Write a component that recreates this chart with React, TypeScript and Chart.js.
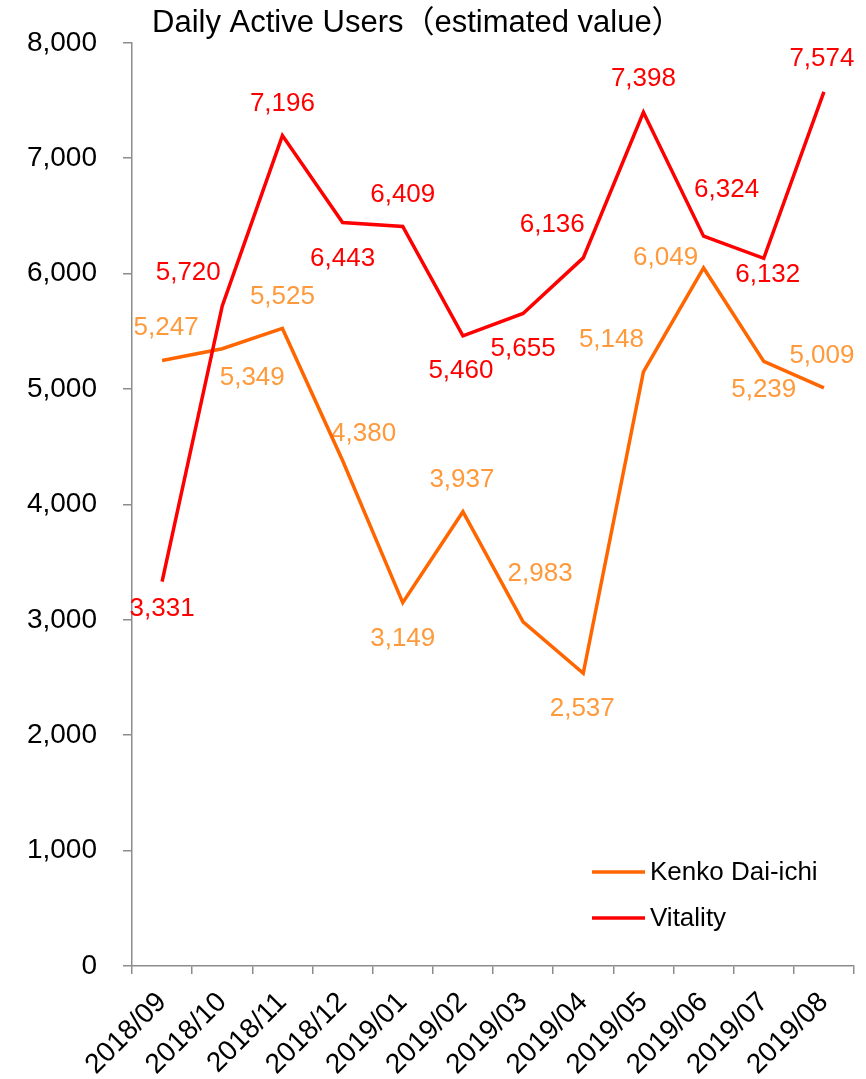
import React, { useEffect, useRef } from "react";
import { Chart, registerables } from "chart.js";

Chart.register(...registerables);

const categories = [
  "2018/09", "2018/10", "2018/11", "2018/12", "2019/01", "2019/02",
  "2019/03", "2019/04", "2019/05", "2019/06", "2019/07", "2019/08",
];
const kenkoValues = [5247, 5349, 5525, 4380, 3149, 3937, 2983, 2537, 5148, 6049, 5239, 5009];
const vitalityValues = [3331, 5720, 7196, 6443, 6409, 5460, 5655, 6136, 7398, 6324, 6132, 7574];
const yTicks = [0, 1000, 2000, 3000, 4000, 5000, 6000, 7000, 8000];
const seriesNames = ["Kenko Dai-ichi", "Vitality"];
const titleText = "Daily Active Users（estimated value）";

// label placement relative to each point (dx, dy in px)
const kenkoLabelOffsets = [
  [4, -33], [30, 29], [0, -32], [21, -27], [0, 36], [-1, -32],
  [17, -48], [-1, 36], [-32, -32], [-38, -10], [0, 28], [-2, -32],
];
const vitalityLabelOffsets = [
  [0, 27], [-34, -33], [0, -32], [0, 36], [0, -32], [-2, 35],
  [0, 35], [-31, -33], [0, -33], [23, -46], [4, 16], [-2, -33],
];

const FONT = '"Liberation Sans", Arial, "Noto Sans CJK JP", sans-serif';
const ORANGE_LINE = "#FF6600";
const ORANGE_LABEL = "#FF9A3C";
const RED = "#FF0000";
const AXIS = "#8c8c8c";

const fmt = (v: number) => v.toLocaleString("en-US");

export default function App() {
  const ref = useRef<HTMLCanvasElement | null>(null);

  useEffect(() => {
    if (!ref.current) return;
    const labelColors = [ORANGE_LABEL, RED];
    const offsets = [kenkoLabelOffsets, vitalityLabelOffsets];

    const labelsPlugin = {
      id: "pointValueLabels",
      beforeDatasetsDraw(chart: any) {
        const ctx = chart.ctx;
        chart.data.datasets.forEach((ds: any, di: number) => {
          const meta = chart.getDatasetMeta(di);
          meta.data.forEach((pt: any, i: number) => {
            const off = offsets[di][i];
            ctx.save();
            ctx.font = `26px ${FONT}`;
            ctx.fillStyle = labelColors[di];
            ctx.textAlign = "center";
            ctx.textBaseline = "middle";
            ctx.fillText(fmt(ds.data[i]), pt.x + off[0], pt.y + off[1]);
            ctx.restore();
          });
        });
      },
    };

    const decorPlugin = {
      id: "titleAndLegend",
      afterDraw(chart: any) {
        const ctx = chart.ctx;
        const area = chart.chartArea;
        ctx.save();
        ctx.font = `31px ${FONT}`;
        ctx.fillStyle = "#000";
        ctx.textAlign = "left";
        ctx.textBaseline = "alphabetic";
        ctx.fillText(titleText, area.left + 20, 32);

        const lx = area.right - 262;
        const ys = [area.bottom - 94, area.bottom - 48];
        const colors = [ORANGE_LINE, RED];
        seriesNames.forEach((name, i) => {
          ctx.strokeStyle = colors[i];
          ctx.lineWidth = 3.5;
          ctx.beginPath();
          ctx.moveTo(lx, ys[i]);
          ctx.lineTo(lx + 53, ys[i]);
          ctx.stroke();
          ctx.font = `26px ${FONT}`;
          ctx.fillStyle = "#000";
          ctx.textBaseline = "middle";
          ctx.fillText(name, lx + 58, ys[i] + 1);
        });
        ctx.restore();
      },
    };

    const chart = new Chart(ref.current, {
      type: "line",
      data: {
        labels: categories,
        datasets: [
          {
            label: seriesNames[0],
            data: kenkoValues,
            borderColor: ORANGE_LINE,
            backgroundColor: ORANGE_LINE,
            borderWidth: 3.5,
            pointRadius: 0,
            tension: 0,
            order: 1,
          },
          {
            label: seriesNames[1],
            data: vitalityValues,
            borderColor: RED,
            backgroundColor: RED,
            borderWidth: 3.5,
            pointRadius: 0,
            tension: 0,
            order: 0,
          },
        ],
      },
      options: {
        responsive: false,
        animation: false,
        layout: { padding: { top: 41, right: 12, left: 0, bottom: 0 } },
        plugins: {
          legend: { display: false },
          title: { display: false },
          tooltip: { enabled: false },
        },
        scales: {
          x: {
            type: "category",
            offset: true,
            afterFit(scale: any) {
              scale.height = 113;
            },
            border: { display: true, color: AXIS, width: 1.5 },
            grid: {
              offset: true,
              drawOnChartArea: false,
              drawTicks: true,
              tickLength: 8,
              color: AXIS,
              lineWidth: 1.5,
            },
            ticks: {
              autoSkip: false,
              minRotation: 45,
              maxRotation: 45,
              padding: 12,
              color: "#000",
              font: { family: FONT, size: 28 },
            },
          },
          y: {
            min: 0,
            max: 8000,
            afterFit(scale: any) {
              scale.width = 132;
            },
            afterBuildTicks(scale: any) {
              scale.ticks = yTicks.map((v) => ({ value: v }));
            },
            border: { display: true, color: AXIS, width: 1.5 },
            grid: {
              drawOnChartArea: false,
              drawTicks: true,
              tickLength: 9,
              color: AXIS,
              lineWidth: 1.5,
            },
            ticks: {
              padding: 26,
              color: "#000",
              font: { family: FONT, size: 28 },
              callback: (v: any) => fmt(Number(v)),
            },
          },
        },
      },
      plugins: [labelsPlugin, decorPlugin],
    } as any);

    return () => chart.destroy();
  }, []);

  return (
    <div style={{ position: "absolute", left: 0, top: 0, width: 866, height: 1079, background: "#fff" }}>
      <canvas ref={ref} width={866} height={1079} />
    </div>
  );
}
